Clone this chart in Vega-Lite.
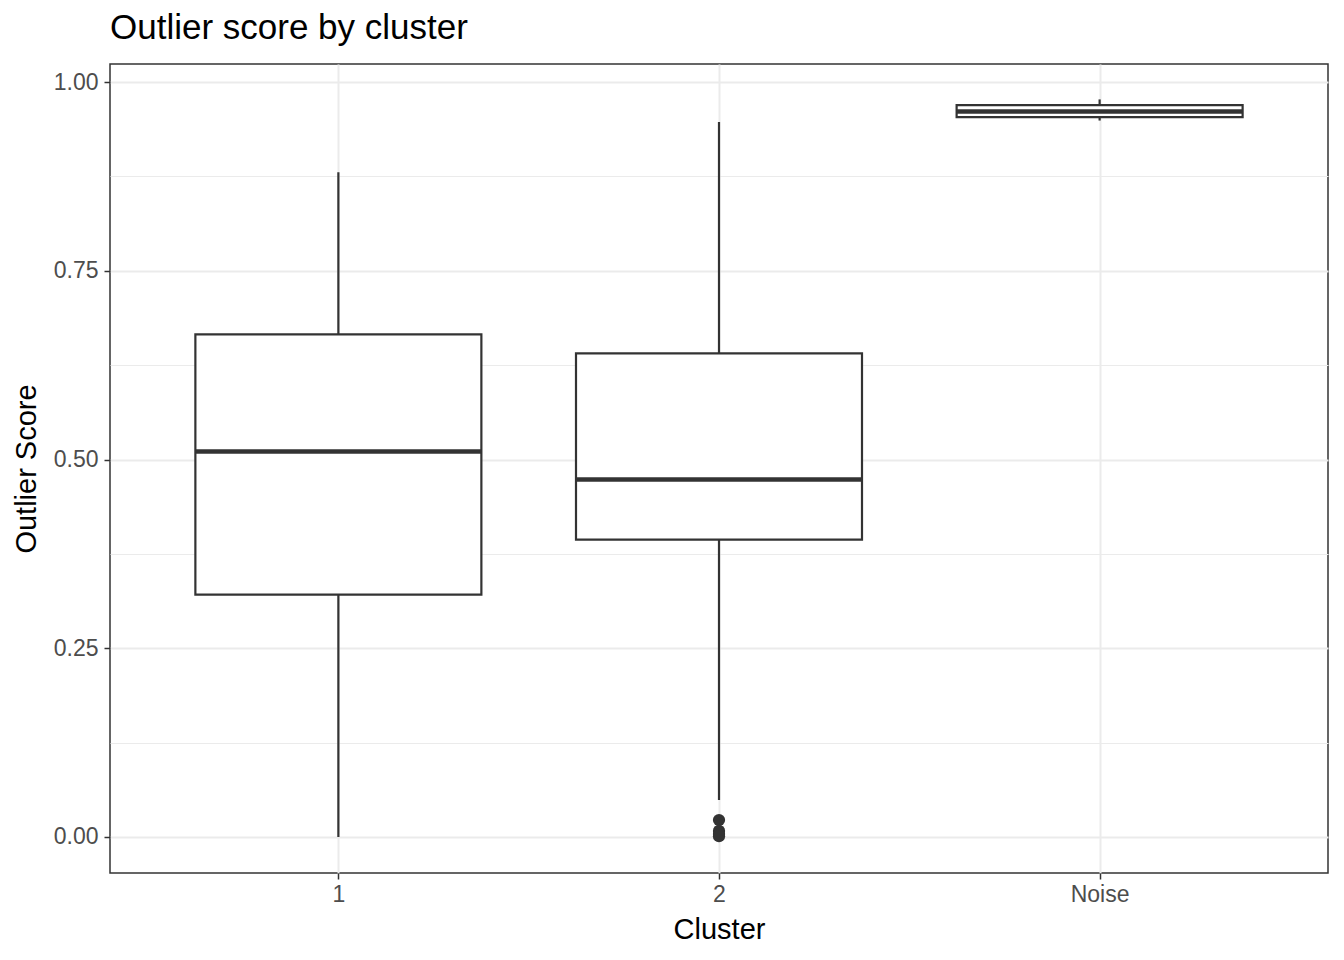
{
  "$schema": "https://vega.github.io/schema/vega-lite/v6.json",
  "autosize": "none",
  "width": 1218,
  "height": 809,
  "padding": {"left": 110, "top": 64, "right": 16, "bottom": 87},
  "background": "white",
  "title": {
    "text": "Outlier score by cluster",
    "anchor": "start",
    "frame": "group",
    "font": "Liberation Sans",
    "fontSize": 35,
    "fontWeight": "normal",
    "color": "black",
    "offset": 18
  },
  "config": {
    "view": {"stroke": "#333333", "strokeWidth": 1.5},
    "axis": {
      "labelFont": "Liberation Sans",
      "titleFont": "Liberation Sans",
      "labelFontSize": 23,
      "labelColor": "#4d4d4d",
      "titleFontSize": 29,
      "titleFontWeight": "normal",
      "titleColor": "black",
      "tickColor": "#333333",
      "tickSize": 6,
      "tickWidth": 1.5,
      "domain": false,
      "gridColor": "#ebebeb"
    }
  },
  "datasets": {
    "boxes": [
      {"cluster": "1", "lower": 0.0, "q1": 0.321, "median": 0.5106, "q3": 0.6658, "upper": 0.8806},
      {"cluster": "2", "lower": 0.049, "q1": 0.3939, "median": 0.4735, "q3": 0.6406, "upper": 0.947},
      {"cluster": "Noise", "lower": 0.949, "q1": 0.9536, "median": 0.961, "q3": 0.9695, "upper": 0.977}
    ],
    "outliers": [
      {"cluster": "2", "score": 0.0225},
      {"cluster": "2", "score": 0.008},
      {"cluster": "2", "score": 0.004},
      {"cluster": "2", "score": 0.001}
    ]
  },
  "layer": [
    {
      "data": {"name": "boxes"},
      "mark": {"type": "rule", "color": "#333333", "strokeWidth": 2.2},
      "encoding": {
        "x": {
          "field": "cluster", "type": "nominal",
          "scale": {"type": "point", "padding": 0.6, "domain": ["1", "2", "Noise"]},
          "axis": {"title": "Cluster", "labelAngle": 0, "grid": true, "gridWidth": 2, "labelPadding": 4, "titlePadding": 9}
        },
        "y": {
          "field": "lower", "type": "quantitative",
          "scale": {"domain": [-0.0477, 1.0239], "nice": false, "zero": false},
          "axis": {
            "title": "Outlier Score",
            "values": [0, 0.125, 0.25, 0.375, 0.5, 0.625, 0.75, 0.875, 1],
            "labelExpr": "abs(datum.value % 0.25) < 0.001 ? format(datum.value, '.2f') : ''",
            "tickOpacity": {"condition": {"test": "abs(datum.value % 0.25) < 0.001", "value": 1}, "value": 0},
            "gridWidth": {"condition": {"test": "abs(datum.value % 0.25) < 0.001", "value": 2}, "value": 1},
            "labelPadding": 6,
            "titlePadding": 12
          }
        },
        "y2": {"field": "upper"}
      }
    },
    {
      "data": {"name": "boxes"},
      "mark": {"type": "bar", "size": 286, "fill": "white", "stroke": "#333333", "strokeWidth": 2.2},
      "encoding": {
        "x": {"field": "cluster", "type": "nominal"},
        "y": {"field": "q1", "type": "quantitative"},
        "y2": {"field": "q3"}
      }
    },
    {
      "data": {"name": "boxes"},
      "mark": {"type": "tick", "size": 286, "thickness": 4.5, "color": "#333333", "opacity": 1, "orient": "horizontal"},
      "encoding": {
        "x": {"field": "cluster", "type": "nominal"},
        "y": {"field": "median", "type": "quantitative"}
      }
    },
    {
      "data": {"name": "outliers"},
      "mark": {"type": "circle", "size": 150, "color": "#333333", "opacity": 1},
      "encoding": {
        "x": {"field": "cluster", "type": "nominal"},
        "y": {"field": "score", "type": "quantitative"}
      }
    }
  ]
}
